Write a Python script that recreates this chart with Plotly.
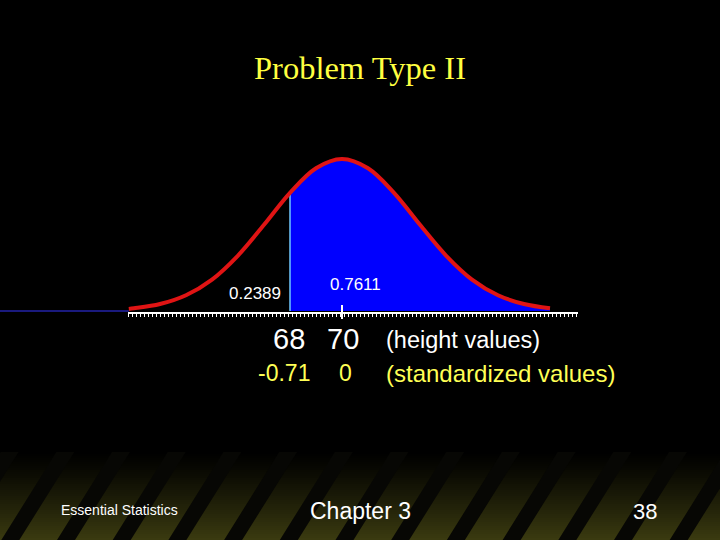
import plotly.graph_objects as go

# ---------------- data ----------------
heights = [61.8, 62, 63, 64, 65, 66, 67, 68, 69, 70, 71, 72, 73, 74, 75, 76, 77, 78]
density = [0.0019, 0.0025, 0.0065, 0.0147, 0.0293, 0.0517, 0.0803, 0.1101, 0.1330,
           0.1416, 0.1330, 0.1101, 0.0803, 0.0517, 0.0293, 0.0147, 0.0065, 0.0025]
cut_value = 68
mean_value = 70
area_left = "0.2389"
area_right = "0.7611"
height_ticks = ["68", "70"]
z_ticks = ["-0.71", "0"]
title_text = "Problem Type II"
footer_left = "Essential Statistics"
footer_mid = "Chapter 3"
footer_right = "38"

# ---------------- layout constants ----------------
W, H = 720, 540
PX_PER_UNIT = 26.0
MEAN_PX = 342.0
BASE_PX = 311.0
PX_PER_DENS = 1073.4
XR = [mean_value - MEAN_PX / PX_PER_UNIT, mean_value + (W - MEAN_PX) / PX_PER_UNIT]
YR = [-(H - BASE_PX) / PX_PER_DENS, BASE_PX / PX_PER_DENS]

def px_x(px):
    return px / W

def px_y(py):
    return 1 - py / H

def dens_at_px(py):
    return (BASE_PX - py) / PX_PER_DENS

def h_at_px(px):
    return mean_value + (px - MEAN_PX) / PX_PER_UNIT

cut_idx = heights.index(cut_value)
cut_dens = density[cut_idx]

fig = go.Figure()

# dark blue baseline to the left of the curve
fig.add_trace(go.Scatter(x=[XR[0], heights[0]], y=[0, 0], mode="lines",
                         line=dict(color="#2323a8", width=1.5), hoverinfo="skip"))

# blue shaded area right of the cut
fig.add_trace(go.Scatter(x=heights[cut_idx:], y=density[cut_idx:], mode="lines",
                         line=dict(width=0, shape="spline", color="#0000ff"),
                         fill="tozeroy", fillcolor="#0000ff", hoverinfo="skip"))

# light blue cut line
fig.add_trace(go.Scatter(x=[cut_value, cut_value], y=[0, cut_dens], mode="lines",
                         line=dict(color="#6fc8ff", width=1.5), hoverinfo="skip"))

# red normal curve
fig.add_trace(go.Scatter(x=heights, y=density, mode="lines",
                         line=dict(color="#e01414", width=4, shape="spline"),
                         hoverinfo="skip"))

# major tick at the mean (on the ticked axis)
fig.add_trace(go.Scatter(x=[mean_value, mean_value], y=[dens_at_px(305), dens_at_px(319)],
                         mode="lines", line=dict(color="white", width=2),
                         xaxis="x2", yaxis="y", hoverinfo="skip"))

# ---------------- footer background ----------------
shapes = []
top_f, bot_f = 452, 540
n = 44
c_bot = (58, 58, 16)
for i in range(n):
    y0 = top_f + (bot_f - top_f) * i / n
    y1 = top_f + (bot_f - top_f) * (i + 1) / n + 0.5
    t = (i + 0.5) / n
    t = min(1.0, t ** 1.15 * 1.02)
    col = "rgb(%d,%d,%d)" % tuple(int(c * t) for c in c_bot)
    shapes.append(dict(type="rect", xref="paper", yref="paper", x0=0, x1=1,
                       y0=px_y(min(y1, H)), y1=px_y(y0), fillcolor=col,
                       line=dict(width=0), layer="below"))
spacing = 55.7
sw = 18
slope = 0.625
for k in range(-2, 14):
    x0 = 1.3 + spacing * k
    dx = slope * (bot_f - top_f)
    path = "M %f,%f L %f,%f L %f,%f L %f,%f Z" % (
        px_x(x0), px_y(bot_f), px_x(x0 + sw), px_y(bot_f),
        px_x(x0 + sw + dx), px_y(top_f), px_x(x0 + dx), px_y(top_f))
    shapes.append(dict(type="path", xref="paper", yref="paper", path=path,
                       fillcolor="#070704", line=dict(width=0), layer="below"))

# ---------------- text ----------------
SANS = "Liberation Sans, Arial, sans-serif"
SERIF = "Liberation Serif, Times New Roman, serif"
ann = []

def add_text(text, xpx, ypx, size, color="white", family=SANS, xanchor="center"):
    ann.append(dict(text=text, x=px_x(xpx), y=px_y(ypx), xref="paper", yref="paper",
                    showarrow=False, xanchor=xanchor, yanchor="middle",
                    font=dict(size=size, color=color, family=family)))

add_text(title_text, 360, 68, 32.5, color="#ffff40", family=SERIF)
add_text(area_left, 254.5, 293, 17)
add_text(area_right, 355, 284, 17)
add_text(height_ticks[0], 289, 339, 29)
add_text(height_ticks[1], 343, 339, 29)
add_text("(height values)", 384, 340, 23.5, xanchor="left")
add_text(z_ticks[0], 283.5, 373, 23, color="#ffff55")
add_text(z_ticks[1], 345, 373, 23, color="#ffff55")
add_text("(standardized values)", 384, 373, 24, color="#ffff55", xanchor="left")
add_text(footer_left, 119, 510, 14)
add_text(footer_mid, 360, 511, 23)
add_text(footer_right, 645, 511, 22)

ax_left_px, ax_right_px = 128, 578
fig.update_layout(
    width=W, height=H,
    margin=dict(l=0, r=0, t=0, b=0),
    paper_bgcolor="black", plot_bgcolor="rgba(0,0,0,0)",
    showlegend=False,
    xaxis=dict(range=XR, visible=False, domain=[0, 1]),
    yaxis=dict(range=YR, visible=False, domain=[0, 1]),
    xaxis2=dict(range=[h_at_px(ax_left_px), h_at_px(ax_right_px)],
                domain=[px_x(ax_left_px), px_x(ax_right_px)],
                anchor="free", position=px_y(313),
                showline=True, linecolor="white", linewidth=1.5,
                ticks="outside", ticklen=3, tickwidth=1, tickcolor="white",
                tick0=h_at_px(ax_left_px), dtick=4 / PX_PER_UNIT,
                showticklabels=False, showgrid=False, zeroline=False),
    shapes=shapes, annotations=ann,
)

fig.write_html("out.html", config={"displayModeBar": False},
               post_script="document.body.style.margin='0';document.body.style.background='black';")
